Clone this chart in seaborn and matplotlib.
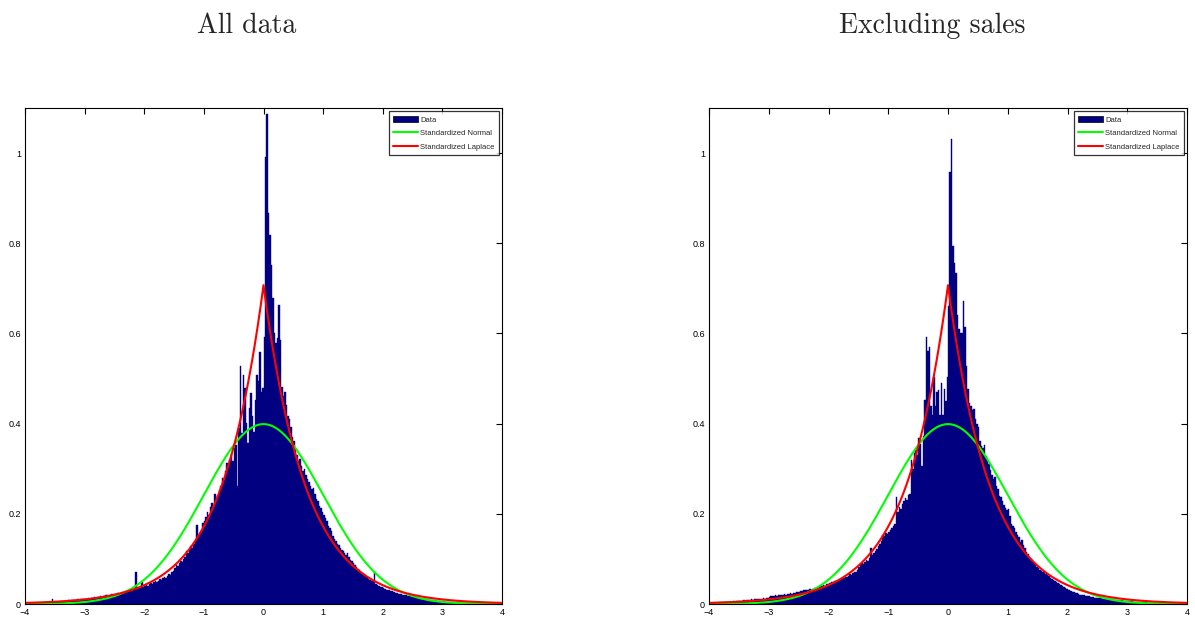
import numpy as np
import pandas as pd
import matplotlib
matplotlib.use("Agg")
import matplotlib.pyplot as plt
import seaborn as sns
from matplotlib import font_manager
from matplotlib.patches import Patch
from matplotlib.lines import Line2D
from matplotlib.ticker import FuncFormatter

# ==============================
# DATA (bin heights, bins of width 0.025 on [-4, 4])
# ==============================

BIN_EDGES = [round(-4 + 0.025 * i, 3) for i in range(321)]

all_data = [
    # [-4, -3.5)
    0.001, 0.001, 0.002, 0.001, 0.002, 0.002, 0.002, 0.003, 0.002, 0.003,
    0.003, 0.002, 0.003, 0.004, 0.003, 0.004, 0.003, 0.004, 0.011, 0.004,
    # [-3.5, -3)
    0.004, 0.005, 0.004, 0.005, 0.006, 0.005, 0.006, 0.007, 0.006, 0.008,
    0.007, 0.008, 0.009, 0.008, 0.009, 0.010, 0.009, 0.011, 0.010, 0.012,
    # [-3, -2.5)
    0.012, 0.011, 0.013, 0.012, 0.014, 0.013, 0.015, 0.014, 0.016, 0.015,
    0.017, 0.016, 0.018, 0.017, 0.019, 0.020, 0.018, 0.021, 0.022, 0.020,
    # [-2.5, -2)
    0.022, 0.023, 0.024, 0.022, 0.025, 0.026, 0.024, 0.027, 0.028, 0.026,
    0.029, 0.031, 0.030, 0.033, 0.072, 0.034, 0.036, 0.035, 0.048, 0.038,
    # [-2, -1.5)
    0.040, 0.042, 0.041, 0.044, 0.046, 0.045, 0.048, 0.050, 0.049, 0.052,
    0.055, 0.053, 0.057, 0.060, 0.058, 0.063, 0.066, 0.064, 0.070, 0.073,
    # [-1.5, -1)
    0.080, 0.086, 0.084, 0.090, 0.095, 0.093, 0.100, 0.105, 0.118, 0.112,
    0.120, 0.128, 0.124, 0.132, 0.138, 0.175, 0.150, 0.158, 0.165, 0.180,
    # [-1, -0.5)
    0.185, 0.192, 0.205, 0.198, 0.215, 0.225, 0.218, 0.245, 0.228, 0.240,
    0.252, 0.262, 0.280, 0.275, 0.295, 0.312, 0.305, 0.320, 0.332, 0.318,
    # [-0.5, 0)
    0.345, 0.352, 0.262, 0.390, 0.528, 0.380, 0.508, 0.478, 0.402, 0.358,
    0.435, 0.468, 0.418, 0.382, 0.452, 0.508, 0.495, 0.558, 0.470, 0.480,
    # [0, 0.5)
    0.593, 0.992, 1.087, 0.867, 0.818, 0.751, 0.679, 0.600, 0.578, 0.590,
    0.663, 0.586, 0.482, 0.462, 0.470, 0.442, 0.418, 0.410, 0.392, 0.370,
    # [0.5, 1)
    0.362, 0.345, 0.330, 0.318, 0.322, 0.305, 0.295, 0.300, 0.285, 0.278,
    0.270, 0.262, 0.255, 0.258, 0.245, 0.232, 0.228, 0.218, 0.212, 0.205,
    # [1, 1.5)
    0.198, 0.190, 0.185, 0.172, 0.168, 0.162, 0.150, 0.145, 0.140, 0.132,
    0.130, 0.125, 0.120, 0.118, 0.112, 0.108, 0.112, 0.104, 0.098, 0.095,
    # [1.5, 2)
    0.090, 0.086, 0.082, 0.078, 0.075, 0.072, 0.068, 0.066, 0.062, 0.060,
    0.056, 0.054, 0.052, 0.050, 0.070, 0.044, 0.042, 0.040, 0.038, 0.037,
    # [2, 2.5)
    0.035, 0.034, 0.032, 0.031, 0.030, 0.029, 0.028, 0.026, 0.025, 0.024,
    0.023, 0.022, 0.022, 0.021, 0.020, 0.019, 0.018, 0.018, 0.017, 0.016,
    # [2.5, 3)
    0.016, 0.015, 0.014, 0.014, 0.013, 0.012, 0.012, 0.011, 0.011, 0.010,
    0.010, 0.009, 0.009, 0.008, 0.008, 0.008, 0.007, 0.007, 0.007, 0.006,
    # [3, 3.5)
    0.006, 0.006, 0.005, 0.005, 0.005, 0.005, 0.004, 0.004, 0.004, 0.004,
    0.004, 0.003, 0.003, 0.003, 0.003, 0.003, 0.003, 0.002, 0.002, 0.002,
    # [3.5, 4)
    0.002, 0.002, 0.002, 0.002, 0.002, 0.002, 0.002, 0.001, 0.001, 0.001,
    0.001, 0.001, 0.001, 0.001, 0.001, 0.001, 0.001, 0.001, 0.001, 0.001,
]

excl_sales = [
    # [-4, -3.5)
    0.002, 0.002, 0.003, 0.002, 0.003, 0.003, 0.003, 0.004, 0.003, 0.004,
    0.004, 0.004, 0.005, 0.004, 0.005, 0.005, 0.006, 0.005, 0.006, 0.006,
    # [-3.5, -3)
    0.006, 0.007, 0.007, 0.008, 0.007, 0.008, 0.009, 0.008, 0.010, 0.009,
    0.010, 0.011, 0.010, 0.012, 0.011, 0.012, 0.013, 0.012, 0.014, 0.013,
    # [-3, -2.5)
    0.016, 0.017, 0.018, 0.017, 0.019, 0.018, 0.020, 0.019, 0.021, 0.020,
    0.022, 0.021, 0.023, 0.022, 0.024, 0.023, 0.025, 0.024, 0.026, 0.027,
    # [-2.5, -2)
    0.027, 0.029, 0.028, 0.030, 0.031, 0.030, 0.032, 0.033, 0.032, 0.034,
    0.035, 0.036, 0.035, 0.038, 0.039, 0.040, 0.042, 0.041, 0.044, 0.045,
    # [-2, -1.5)
    0.046, 0.047, 0.049, 0.048, 0.051, 0.052, 0.050, 0.054, 0.056, 0.055,
    0.058, 0.060, 0.059, 0.063, 0.066, 0.064, 0.069, 0.072, 0.070, 0.076,
    # [-1.5, -1)
    0.082, 0.086, 0.090, 0.088, 0.094, 0.098, 0.096, 0.102, 0.124, 0.108,
    0.112, 0.118, 0.122, 0.128, 0.134, 0.140, 0.152, 0.150, 0.158, 0.155,
    # [-1, -0.5)
    0.160, 0.165, 0.168, 0.172, 0.178, 0.238, 0.205, 0.215, 0.210, 0.222,
    0.228, 0.235, 0.230, 0.242, 0.245, 0.320, 0.300, 0.335, 0.342, 0.330,
    # [-0.5, 0)
    0.368, 0.355, 0.305, 0.372, 0.452, 0.592, 0.560, 0.571, 0.440, 0.420,
    0.504, 0.440, 0.470, 0.475, 0.420, 0.490, 0.420, 0.476, 0.450, 0.504,
    # [0, 0.5)
    0.660, 0.959, 1.031, 0.795, 0.756, 0.734, 0.640, 0.610, 0.600, 0.600,
    0.672, 0.615, 0.527, 0.476, 0.445, 0.440, 0.430, 0.432, 0.410, 0.400,
    # [0.5, 1)
    0.392, 0.362, 0.350, 0.345, 0.352, 0.328, 0.318, 0.310, 0.298, 0.285,
    0.278, 0.282, 0.262, 0.255, 0.240, 0.238, 0.228, 0.220, 0.212, 0.208,
    # [1, 1.5)
    0.210, 0.195, 0.178, 0.172, 0.168, 0.160, 0.152, 0.148, 0.138, 0.142,
    0.130, 0.124, 0.116, 0.110, 0.105, 0.100, 0.095, 0.090, 0.086, 0.082,
    # [1.5, 2)
    0.079, 0.076, 0.074, 0.072, 0.070, 0.066, 0.064, 0.062, 0.058, 0.056,
    0.054, 0.051, 0.049, 0.047, 0.045, 0.043, 0.040, 0.038, 0.035, 0.033,
    # [2, 2.5)
    0.032, 0.030, 0.029, 0.027, 0.026, 0.025, 0.024, 0.023, 0.021, 0.020,
    0.020, 0.019, 0.018, 0.017, 0.017, 0.016, 0.015, 0.015, 0.014, 0.014,
    # [2.5, 3)
    0.013, 0.013, 0.013, 0.012, 0.012, 0.011, 0.011, 0.011, 0.010, 0.010,
    0.010, 0.009, 0.009, 0.009, 0.008, 0.008, 0.008, 0.007, 0.007, 0.007,
    # [3, 3.5)
    0.007, 0.006, 0.006, 0.006, 0.005, 0.005, 0.005, 0.005, 0.004, 0.004,
    0.004, 0.004, 0.004, 0.003, 0.003, 0.003, 0.003, 0.003, 0.003, 0.002,
    # [3.5, 4)
    0.002, 0.002, 0.002, 0.002, 0.002, 0.002, 0.002, 0.002, 0.001, 0.001,
    0.001, 0.001, 0.001, 0.001, 0.001, 0.001, 0.001, 0.001, 0.001, 0.001,
]

panel_titles = ["All data", "Excluding sales"]
legend_labels = ["Data", "Standardized Normal", "Standardized Laplace"]
x_ticks = [-4, -3, -2, -1, 0, 1, 2, 3, 4]
y_ticks = [0, 0.2, 0.4, 0.6, 0.8, 1.0]

# reference densities (unit variance)
x_grid = np.linspace(-4, 4, 321)
normal_pdf = np.exp(-x_grid ** 2 / 2) / np.sqrt(2 * np.pi)
laplace_pdf = np.exp(-np.sqrt(2) * np.abs(x_grid)) / np.sqrt(2)

# ==============================
# STYLE
# ==============================

BAR_COLOR = "#000080"
NORMAL_COLOR = "#00ff00"
LAPLACE_COLOR = "#ff0000"

sns.set_theme(style="white")
names = {f.name for f in font_manager.fontManager.ttflist}
small_font = "Liberation Sans Narrow" if "Liberation Sans Narrow" in names else "Liberation Sans"
plt.rcParams["font.family"] = [small_font, "DejaVu Sans"]
plt.rcParams["axes.unicode_minus"] = True

# ==============================
# PLOT
# ==============================

fig = plt.figure(figsize=(11.95, 6.24), dpi=100)
axes = [
    fig.add_axes([25 / 1195, 20 / 624, 477 / 1195, 496 / 624]),
    fig.add_axes([709 / 1195, 20 / 624, 478 / 1195, 496 / 624]),
]
title_x = [247 / 1195, 932 / 1195]

centers = [(a + b) / 2 for a, b in zip(BIN_EDGES[:-1], BIN_EDGES[1:])]

for ax, heights, title, tx in zip(axes, [all_data, excl_sales], panel_titles, title_x):
    df = pd.DataFrame({"x": centers, "h": heights})
    sns.histplot(
        data=df, x="x", weights="h", bins=BIN_EDGES, stat="count",
        color=BAR_COLOR, alpha=1, edgecolor=BAR_COLOR, linewidth=0.3, ax=ax,
    )
    sns.lineplot(x=x_grid, y=normal_pdf, color=NORMAL_COLOR, lw=1.5, ax=ax)
    sns.lineplot(x=x_grid, y=laplace_pdf, color=LAPLACE_COLOR, lw=1.5, ax=ax)

    ax.set_xlim(-4, 4)
    ax.set_ylim(0, 1.1)
    ax.set_xticks(x_ticks)
    ax.set_yticks(y_ticks)
    ax.yaxis.set_major_formatter(FuncFormatter(lambda v, p: f"{v:g}"))
    ax.set_xlabel("")
    ax.set_ylabel("")
    ax.tick_params(direction="in", length=4, width=0.8, labelsize=6.5,
                   top=True, right=True, pad=3, colors="black")
    for s in ax.spines.values():
        s.set_visible(True)
        s.set_color("black")
        s.set_linewidth(0.8)

    handles = [
        Patch(facecolor=BAR_COLOR, edgecolor="black", linewidth=0.5),
        Line2D([], [], color=NORMAL_COLOR, lw=1.5),
        Line2D([], [], color=LAPLACE_COLOR, lw=1.5),
    ]
    leg = ax.legend(handles, legend_labels, loc="upper right", fontsize=5.5,
                    frameon=True, fancybox=False, handlelength=3.2,
                    handleheight=1.0, labelspacing=0.75, borderaxespad=0.45,
                    handletextpad=0.3, borderpad=0.55)
    leg.get_frame().set_edgecolor("black")
    leg.get_frame().set_linewidth(0.9)

    fig.text(tx, 1 - 33 / 624, title, ha="center", va="baseline",
             fontsize=20, family="cmr10")

plt.savefig("out.png", dpi=100)
